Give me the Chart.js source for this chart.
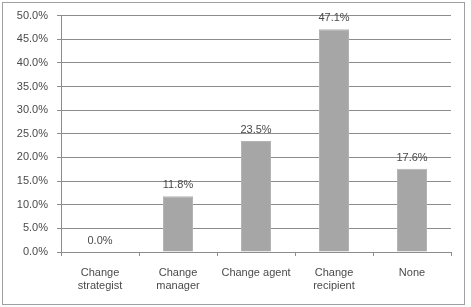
<!DOCTYPE html>
<html>
<head>
<meta charset="utf-8">
<script src="https://cdn.jsdelivr.net/npm/chart.js@4"></script>
<style>
  body { margin: 0; background: #fff; }
  #frame { position: absolute; left: 2px; top: 2px; width: 461px; height: 301px; border: 1px solid #a0a0a0; }
  #grafico { position: absolute; left: 0; top: 0; }
</style>
</head>
<body>
<div id="frame"></div>
<canvas id="grafico" width="471" height="307"></canvas>
<script>
var categorias = [["Change", "strategist"], ["Change", "manager"], "Change agent", ["Change", "recipient"], "None"];
var valores = [0.0, 11.8, 23.5, 47.1, 17.6];
var rotulos = ["0.0%", "11.8%", "23.5%", "47.1%", "17.6%"];

var fonte = { family: "'Liberation Sans', Arial, sans-serif", size: 11 };

// escreve o valor em cima de cada barra
var rotulosBarras = {
    id: 'rotulosBarras',
    afterDatasetsDraw: function (chart) {
        var ctx = chart.ctx;
        var meta = chart.getDatasetMeta(0);
        ctx.save();
        ctx.font = "11px " + fonte.family;
        ctx.fillStyle = "#4a4a4a";
        ctx.textAlign = "center";
        ctx.textBaseline = "middle";
        meta.data.forEach(function (barra, i) {
            ctx.fillText(rotulos[i], barra.x, barra.y - 11);
        });
        ctx.restore();
    }
};

var ctx = document.getElementById("grafico").getContext("2d");

var grafico = new Chart(ctx, {
    type: 'bar',
    data: {
        labels: categorias,
        datasets: [{
            data: valores,
            backgroundColor: "#a6a6a6",
            borderColor: "#b4b4b4",
            borderWidth: 1,
            barPercentage: 0.385,
            categoryPercentage: 1.0
        }]
    },
    options: {
        responsive: false,
        animation: false,
        layout: { padding: { left: 0, right: 20, top: 15, bottom: 0 } },
        scales: {
            y: {
                min: 0,
                max: 50,
                afterFit: function (s) { s.width = 61; },
                ticks: {
                    stepSize: 5,
                    color: "#4a4a4a",
                    font: fonte,
                    padding: 9,
                    callback: function (v) { return v.toFixed(1) + "%"; }
                },
                grid: { color: "#8c8c8c", tickLength: 4 },
                border: { color: "#8c8c8c" }
            },
            x: {
                afterFit: function (s) { s.height = 55; },
                ticks: {
                    color: "#4a4a4a",
                    font: fonte,
                    padding: 10,
                    maxRotation: 0
                },
                grid: { offset: true, drawOnChartArea: false, color: "#8c8c8c", tickLength: 4 },
                border: { color: "#8c8c8c" }
            }
        },
        plugins: {
            legend: { display: false },
            tooltip: { enabled: false }
        }
    },
    plugins: [rotulosBarras]
});
</script>
</body>
</html>
